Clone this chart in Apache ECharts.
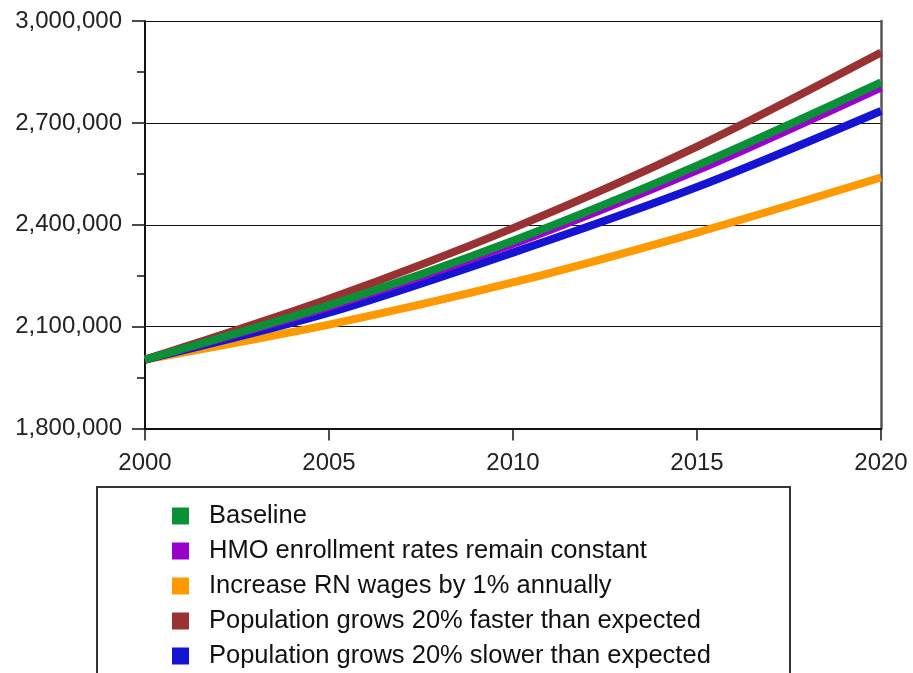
<!DOCTYPE html>
<html>
<head>
<meta charset="utf-8">
<script src="https://cdn.jsdelivr.net/npm/echarts@6/dist/echarts.min.js"></script>
<style>
html,body{margin:0;padding:0;background:#fff;}
#chart{width:913px;height:673px;}
</style>
</head>
<body>
<div id="chart"></div>
<script>
const years = [2000, 2005, 2010, 2015, 2020];
const seriesNames = [
  'Baseline',
  'HMO enrollment rates remain constant',
  'Increase RN wages by 1% annually',
  'Population grows 20% faster than expected',
  'Population grows 20% slower than expected'
];
const baseline = [2003000, 2163000, 2353000, 2574000, 2819000];
const hmoConstant = [2003000, 2158000, 2343000, 2560000, 2804000];
const rnWages = [2003000, 2106000, 2230000, 2377000, 2539000];
const popFaster = [2003000, 2182000, 2390000, 2630000, 2907000];
const popSlower = [2003000, 2141000, 2318000, 2511000, 2735000];
const yTicks = [1800000, 2100000, 2400000, 2700000, 3000000];

const colors = ['#0A9138', '#9900CC', '#FF9900', '#993333', '#1414D2'];
const values = [baseline, hmoConstant, rnWages, popFaster, popSlower];
const zOrder = [10, 6, 3, 8, 5];

const chart = echarts.init(document.getElementById('chart'));
const font = '"Liberation Sans", Arial, sans-serif';

chart.setOption({
  animation: false,
  backgroundColor: '#fff',
  color: colors,
  grid: { left: 145, right: 32, top: 21, bottom: 244.5, containLabel: false },
  xAxis: {
    type: 'value',
    min: years[0],
    max: years[years.length - 1],
    interval: 5,
    axisLine: { show: true, lineStyle: { color: '#111', width: 2 } },
    axisTick: { show: true, length: 12, lineStyle: { color: '#111', width: 1.5 } },
    axisLabel: {
      margin: 23, fontSize: 24, color: '#222', fontFamily: font,
      formatter: v => String(v)
    },
    splitLine: { show: false }
  },
  yAxis: [{
    type: 'value',
    min: yTicks[0],
    max: yTicks[yTicks.length - 1],
    interval: 300000,
    axisLine: { show: true, lineStyle: { color: '#111', width: 2 } },
    axisTick: { show: true, length: 13, lineStyle: { color: '#111', width: 1.5 } },
    minorTick: { show: true, splitNumber: 2, length: 8, lineStyle: { color: '#111', width: 1.5 } },
    axisLabel: { margin: 23, fontSize: 24, color: '#222', fontFamily: font },
    splitLine: { show: true, lineStyle: { color: '#111', width: 1.2 } }
  }, {
    type: 'value',
    position: 'right',
    min: yTicks[0],
    max: yTicks[yTicks.length - 1],
    interval: 300000,
    axisLine: { show: true, lineStyle: { color: '#555', width: 2.5 } },
    axisTick: { show: false },
    axisLabel: { show: false },
    splitLine: { show: false }
  }],
  legend: {
    orient: 'vertical',
    left: 172,
    top: 503,
    height: 300,
    padding: 0,
    itemWidth: 17,
    itemHeight: 17,
    itemGap: 9,
    icon: 'rect',
    data: seriesNames,
    textStyle: { fontSize: 25.5, lineHeight: 24, color: '#111', fontFamily: font, padding: [0, 0, 0, 15] }
  },
  graphic: [{
    type: 'rect',
    shape: { x: 97, y: 487, width: 693, height: 220 },
    style: { fill: 'none', stroke: '#333', lineWidth: 2 },
    silent: true
  }],
  series: seriesNames.map((name, i) => ({
    name: name,
    type: 'line',
    data: years.map((y, j) => [y, values[i][j]]),
    smooth: 0.3,
    showSymbol: false,
    symbol: 'none',
    z: zOrder[i],
    lineStyle: { width: 8, color: colors[i] },
    itemStyle: { color: colors[i] }
  }))
});
</script>
</body>
</html>
